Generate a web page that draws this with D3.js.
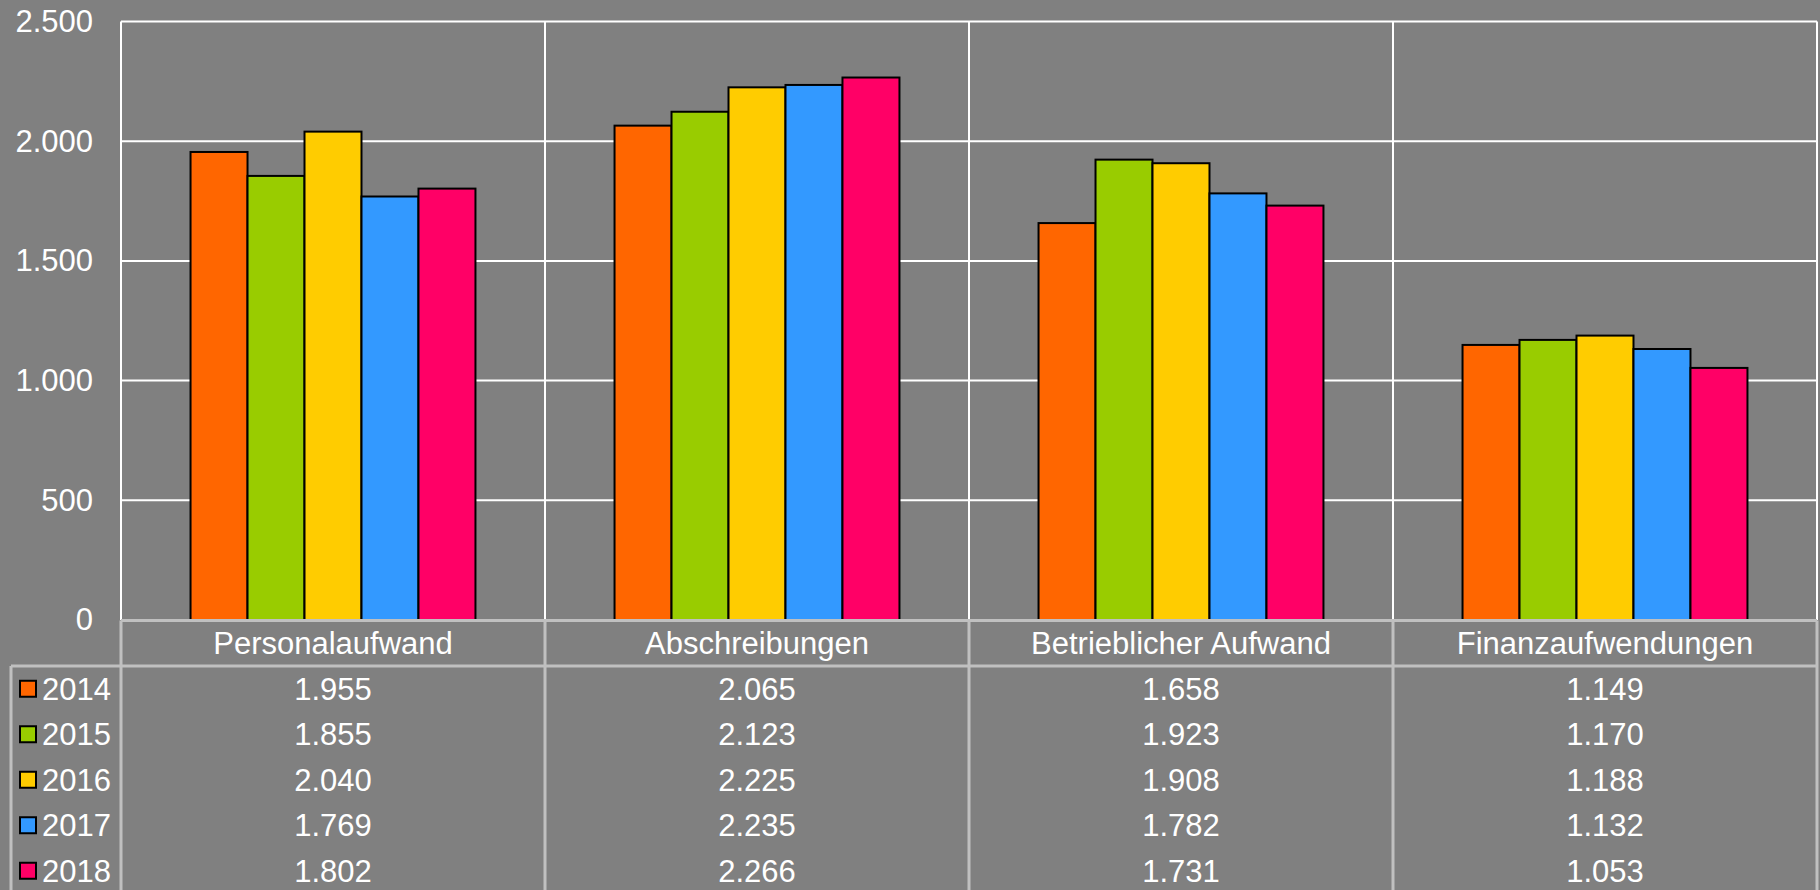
<!DOCTYPE html>
<html>
<head>
<meta charset="utf-8">
<script src="https://cdn.jsdelivr.net/npm/d3@7"></script>
<style>
  html, body { margin: 0; padding: 0; background: #808080; overflow: hidden; }
  text { font-family: "Liberation Sans", Arial, sans-serif; fill: #fff; }
</style>
</head>
<body>
<div id="chart-area"></div>
<script>
const categories = ['Personalaufwand', 'Abschreibungen', 'Betrieblicher Aufwand', 'Finanzaufwendungen'];
const years = ['2014', '2015', '2016', '2017', '2018'];
const values2014 = [1955, 2065, 1658, 1149];
const values2015 = [1855, 2123, 1923, 1170];
const values2016 = [2040, 2225, 1908, 1188];
const values2017 = [1769, 2235, 1782, 1132];
const values2018 = [1802, 2266, 1731, 1053];
const yTicks = [0, 500, 1000, 1500, 2000, 2500];
const colors = ['#FF6600', '#99CC00', '#FFCC00', '#3399FF', '#FF0066'];

const seriesValues = [values2014, values2015, values2016, values2017, values2018];

const WIDTH = 1820;
const HEIGHT = 890;
const MARGINS = { top: 21.5, left: 121, right: 3, bottom: 270 };
const PLOT_BOTTOM = 620;
const LEGEND_LEFT = 11;
const HEAD_ROW = 45.5;
const ROW_H = 45.5;
const FONT = 31;

const svg = d3.select('#chart-area')
  .append('svg')
  .attr('width', WIDTH)
  .attr('height', HEIGHT);

svg.append('rect')
  .attr('width', WIDTH)
  .attr('height', HEIGHT)
  .attr('fill', '#808080');

// Scales
const xScale = d3.scaleBand()
  .domain(categories)
  .range([MARGINS.left, WIDTH - MARGINS.right]);
const yScale = d3.scaleLinear()
  .domain([0, 2500])
  .range([PLOT_BOTTOM, MARGINS.top]);
// bars take 285px out of ~424px per category
const innerWidth = xScale.bandwidth() * 0.672;
const xInner = d3.scaleBand()
  .domain(years)
  .range([0, innerWidth]);

// Gridlines
const grid = svg.append('g');
grid.selectAll('line.h')
  .data(yTicks)
  .enter().append('line')
  .attr('x1', MARGINS.left)
  .attr('x2', WIDTH - MARGINS.right)
  .attr('y1', d => yScale(d))
  .attr('y2', d => yScale(d))
  .attr('stroke', '#fff')
  .attr('stroke-width', 2);
grid.selectAll('line.v')
  .data(categories.concat(['end']))
  .enter().append('line')
  .attr('x1', d => d === 'end' ? WIDTH - MARGINS.right : xScale(d))
  .attr('x2', d => d === 'end' ? WIDTH - MARGINS.right : xScale(d))
  .attr('y1', MARGINS.top)
  .attr('y2', PLOT_BOTTOM)
  .attr('stroke', '#fff')
  .attr('stroke-width', 2);

// Y Axis labels
const yAxisCall = d3.axisLeft(yScale)
  .tickValues(yTicks)
  .tickSize(0)
  .tickPadding(0)
  .tickFormat(d => d3.format(',')(d).replace(/,/g, '.'));
const yAxis = svg.append('g')
  .attr('transform', `translate(93, 0)`)
  .call(yAxisCall);
yAxis.select('.domain').remove();
yAxis.selectAll('text')
  .attr('font-size', FONT)
  .attr('font-family', '"Liberation Sans", Arial, sans-serif')
  .attr('fill', '#fff');

// Bars
const groups = svg.selectAll('g.cat')
  .data(categories)
  .enter().append('g')
  .attr('transform', d => `translate(${xScale(d) + (xScale.bandwidth() - innerWidth) / 2}, 0)`);

groups.selectAll('rect')
  .data((c, ci) => years.map((y, i) => ({ year: y, i: i, value: seriesValues[i][ci] })))
  .enter().append('rect')
  .attr('x', d => xInner(d.year))
  .attr('width', xInner.bandwidth())
  .attr('y', d => yScale(d.value))
  .attr('height', d => PLOT_BOTTOM - yScale(d.value))
  .attr('fill', d => colors[d.i])
  .attr('stroke', '#000')
  .attr('stroke-width', 2);

// Data table
const table = svg.append('g');
const lineColor = '#C0C0C0';
const tableTop = PLOT_BOTTOM + 0.5;
const rowsTop = tableTop + HEAD_ROW;

table.append('line')
  .attr('x1', MARGINS.left).attr('x2', WIDTH - MARGINS.right)
  .attr('y1', tableTop).attr('y2', tableTop)
  .attr('stroke', lineColor).attr('stroke-width', 3);
table.append('line')
  .attr('x1', LEGEND_LEFT).attr('x2', WIDTH - MARGINS.right)
  .attr('y1', rowsTop).attr('y2', rowsTop)
  .attr('stroke', lineColor).attr('stroke-width', 3);
table.append('line')
  .attr('x1', LEGEND_LEFT).attr('x2', LEGEND_LEFT)
  .attr('y1', rowsTop).attr('y2', HEIGHT)
  .attr('stroke', lineColor).attr('stroke-width', 3);
table.selectAll('line.col')
  .data(categories.concat(['end']))
  .enter().append('line')
  .attr('x1', d => d === 'end' ? WIDTH - MARGINS.right : xScale(d))
  .attr('x2', d => d === 'end' ? WIDTH - MARGINS.right : xScale(d))
  .attr('y1', tableTop)
  .attr('y2', HEIGHT)
  .attr('stroke', lineColor)
  .attr('stroke-width', 3);

// category header
table.selectAll('text.cat')
  .data(categories)
  .enter().append('text')
  .attr('x', d => xScale(d) + xScale.bandwidth() / 2)
  .attr('y', tableTop + HEAD_ROW / 2)
  .attr('dy', '0.35em')
  .attr('text-anchor', 'middle')
  .attr('font-size', FONT)
  .text(d => d);

// rows
years.forEach((year, i) => {
  let rowY = rowsTop + ROW_H * i + ROW_H / 2;
  let row = table.append('g');
  row.append('rect')
    .attr('x', 20)
    .attr('y', rowY - 8)
    .attr('width', 16)
    .attr('height', 16)
    .attr('fill', colors[i])
    .attr('stroke', '#000')
    .attr('stroke-width', 2);
  row.append('text')
    .attr('x', 42)
    .attr('y', rowY)
    .attr('dy', '0.35em')
    .attr('font-size', FONT)
    .text(year);
  row.selectAll('text.val')
    .data(seriesValues[i])
    .enter().append('text')
    .attr('x', (d, ci) => xScale(categories[ci]) + xScale.bandwidth() / 2)
    .attr('y', rowY)
    .attr('dy', '0.35em')
    .attr('text-anchor', 'middle')
    .attr('font-size', FONT)
    .text(d => d3.format(',')(d).replace(/,/g, '.'));
});
</script>
</body>
</html>
